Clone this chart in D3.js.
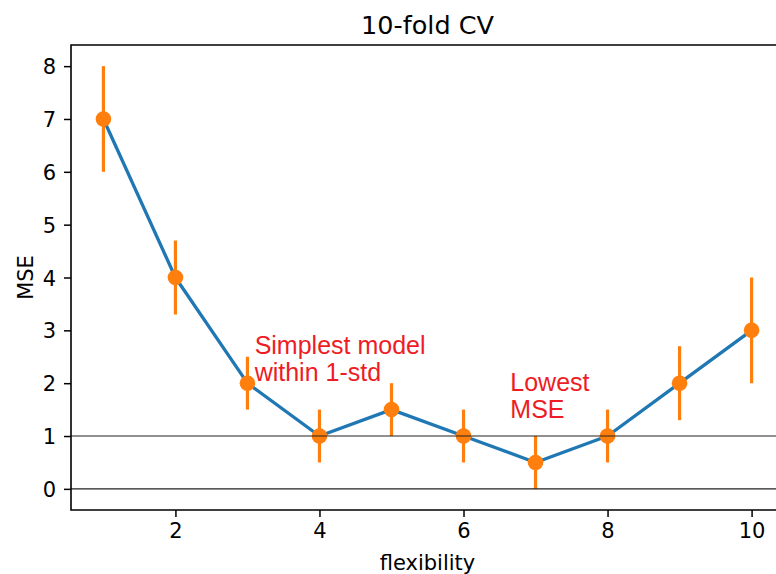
<!DOCTYPE html>
<html>
<head>
<meta charset="utf-8">
<script src="https://cdn.jsdelivr.net/npm/d3@7"></script>
<style>
body { margin: 0; background: #fff; overflow: hidden; }
svg { display: block; font-family: "DejaVu Sans", sans-serif; }
.note { font-family: "Liberation Sans", Arial, sans-serif; fill: #ee1c25; font-size: 25px; }
</style>
</head>
<body>
<script>
// data
var flex = [1, 2, 3, 4, 5, 6, 7, 8, 9, 10],
mse = [7, 4, 2, 1, 1.5, 1, 0.5, 1, 2, 3],
err = [1, 0.7, 0.5, 0.5, 0.5, 0.5, 0.5, 0.5, 0.7, 1],
xTicks = [2, 4, 6, 8, 10],
yTicks = [0, 1, 2, 3, 4, 5, 6, 7, 8],
hLines = [0, 1];

var notes = [
	{x: 3.1, y: 2.05, lines: ["Simplest model", "within 1-std"]},
	{x: 6.65, y: 1.35, lines: ["Lowest", "MSE"]}
];

var W = 776, H = 574,
padding = {top: 45, right: -8, bottom: 64, left: 71},
w = W - padding.left - padding.right,
h = H - padding.top - padding.bottom;

var xSc = d3.scaleLinear().domain([0.55, 10.45]).range([0, w]),
ySc = d3.scaleLinear().domain([-0.4, 8.4]).range([h, 0]);

var svg = d3.select("body").append("svg")
	.attr("width", W)
	.attr("height", H);

var chart = svg.append("g")
	.attr("transform", "translate(" + padding.left + "," + padding.top + ")");

var rows = flex.map(function(f, i) { return {x: f, y: mse[i], e: err[i]}; });

// blue line
chart.append("path")
	.datum(rows)
	.attr("fill", "none")
	.attr("stroke", "#1f77b4")
	.attr("stroke-width", 3.3)
	.attr("stroke-linejoin", "round")
	.attr("d", d3.line().x(function(d) { return xSc(d.x); }).y(function(d) { return ySc(d.y); }));

// error bars
chart.append("g").selectAll("line")
	.data(rows).enter().append("line")
	.attr("x1", function(d) { return xSc(d.x); })
	.attr("x2", function(d) { return xSc(d.x); })
	.attr("y1", function(d) { return ySc(d.y - d.e); })
	.attr("y2", function(d) { return ySc(d.y + d.e); })
	.attr("stroke", "#ff7f0e")
	.attr("stroke-width", 3.2);

chart.append("g").selectAll("circle")
	.data(rows).enter().append("circle")
	.attr("cx", function(d) { return xSc(d.x); })
	.attr("cy", function(d) { return ySc(d.y); })
	.attr("r", 7.8)
	.attr("fill", "#ff7f0e");

// reference lines on top
chart.append("g").selectAll("line")
	.data(hLines).enter().append("line")
	.attr("x1", 0).attr("x2", w)
	.attr("y1", function(d) { return ySc(d); })
	.attr("y2", function(d) { return ySc(d); })
	.attr("stroke", "#222")
	.attr("stroke-width", 1.1);

// annotations
notes.forEach(function(n) {
	var t = chart.append("text").attr("class", "note")
		.attr("x", xSc(n.x))
		.attr("y", ySc(n.y));
	var k = n.lines.length - 1;
	n.lines.forEach(function(s, j) {
		t.append("tspan")
			.attr("x", xSc(n.x))
			.attr("y", ySc(n.y) - (k - j) * 27)
			.text(s);
	});
});

// axes
var xAxis = d3.axisBottom(xSc).tickValues(xTicks).tickSize(7).tickPadding(6).tickSizeOuter(0),
yAxis = d3.axisLeft(ySc).tickValues(yTicks).tickSize(7).tickPadding(8).tickSizeOuter(0);

var gx = chart.append("g")
	.attr("transform", "translate(0," + h + ")")
	.call(xAxis);
var gy = chart.append("g").call(yAxis);

[gx, gy].forEach(function(g) {
	g.select(".domain").remove();
	g.selectAll(".tick line").attr("stroke", "#000").attr("stroke-width", 1.5);
	g.selectAll(".tick text").attr("font-family", "DejaVu Sans").attr("font-size", "21px").attr("fill", "#000");
});
gy.selectAll(".tick text").attr("dy", "0.36em");

// spines (left, bottom, top; right is off the page)
chart.append("path")
	.attr("fill", "none")
	.attr("stroke", "#000")
	.attr("stroke-width", 1.6)
	.attr("d", "M" + w + ",0H0V" + h + "H" + w);

svg.append("text")
	.attr("x", padding.left + w / 2)
	.attr("y", 34)
	.attr("text-anchor", "middle")
	.attr("font-size", "25.5px")
	.text("10-fold CV");

svg.append("text")
	.attr("x", padding.left + w / 2)
	.attr("y", 570)
	.attr("text-anchor", "middle")
	.attr("font-size", "21px")
	.text("flexibility");

svg.append("text")
	.attr("transform", "rotate(-90)")
	.attr("x", -(padding.top + h / 2))
	.attr("y", 33)
	.attr("text-anchor", "middle")
	.attr("font-size", "21px")
	.text("MSE");
</script>
</body>
</html>
